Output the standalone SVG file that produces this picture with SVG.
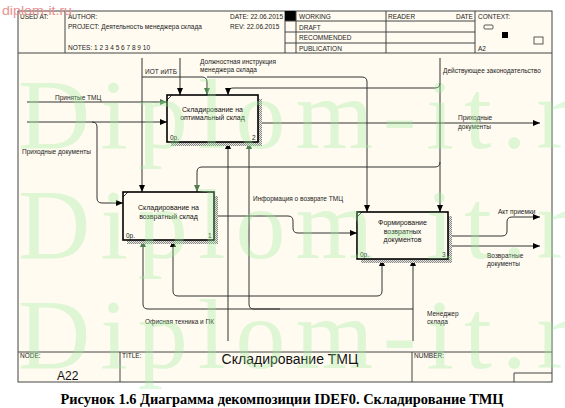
<svg xmlns="http://www.w3.org/2000/svg" width="565" height="408" viewBox="0 0 565 408">
<style>
.t{font-family:"Liberation Sans",Arial,sans-serif;font-size:7px;fill:#111}
.h{font-family:"Liberation Sans",Arial,sans-serif;font-size:6.5px;fill:#222}
.c{stroke:#333;stroke-width:1;fill:none}
.ca{stroke:#333;stroke-width:1;fill:none;marker-end:url(#a)}
.cg{stroke:#333;stroke-width:1;fill:none;marker-end:url(#g)}
.box{fill:#fffbf0;stroke:#000;stroke-width:1.6}
.sh{fill:url(#hatch)}
.fr{stroke:#444;stroke-width:1;fill:none}
.wm{font-family:"Liberation Serif","Times New Roman",serif;font-size:100px;fill:#9aee9a;opacity:0.32}
</style>
<defs>
<marker id="a" markerWidth="7" markerHeight="6" refX="7" refY="3" orient="auto" markerUnits="userSpaceOnUse"><path d="M0,0 L7,3 L0,6 z" fill="#000"/></marker>
<marker id="g" markerWidth="7" markerHeight="6" refX="7" refY="3" orient="auto" markerUnits="userSpaceOnUse"><path d="M0,0 L7,3 L0,6 z" fill="#4f7f4f"/></marker>
<pattern id="hatch" width="2" height="2" patternUnits="userSpaceOnUse"><rect width="2" height="2" fill="#e8e8e0"/><rect width="1" height="1" fill="#888"/><rect x="1" y="1" width="1" height="1" fill="#888"/></pattern>
</defs>
<rect width="565" height="408" fill="#fff"/>
<rect x="18" y="11" width="534" height="371" fill="#fffbf0"/>
<g id="frame">
<rect class="fr" x="18" y="11" width="534" height="371"/>
<line class="fr" x1="18" y1="53" x2="552" y2="53"/>
<line class="fr" x1="65" y1="11" x2="65" y2="53"/>
<line class="fr" x1="285" y1="11" x2="285" y2="53"/>
<rect x="285" y="11" width="11" height="10" fill="#000"/>
<line class="fr" x1="296" y1="11" x2="296" y2="53"/>
<line class="fr" x1="386" y1="11" x2="386" y2="53"/>
<line class="fr" x1="475" y1="11" x2="475" y2="53"/>
<line class="fr" x1="285" y1="21" x2="475" y2="21"/>
<line class="fr" x1="285" y1="32" x2="475" y2="32"/>
<line class="fr" x1="285" y1="43" x2="475" y2="43"/>
<text class="h" x="20" y="18.5">USED AT:</text>
<text class="h" x="68" y="18.5">AUTHOR:</text>
<text class="h" x="68" y="28.5">PROJECT:  Деятельность менеджера склада</text>
<text class="h" x="68" y="49.5">NOTES:  1  2  3  4  5  6  7  8  9  10</text>
<text class="h" x="230" y="18.5">DATE:  22.06.2015</text>
<text class="h" x="230" y="28.5">REV:    22.06.2015</text>
<text class="h" x="299" y="18.5">WORKING</text>
<text class="h" x="299" y="29.5">DRAFT</text>
<text class="h" x="299" y="40">RECOMMENDED</text>
<text class="h" x="299" y="50.5">PUBLICATION</text>
<text class="h" x="388" y="18.5">READER</text>
<text class="h" x="456" y="18.5">DATE</text>
<text class="h" x="478" y="18.5">CONTEXT:</text>
<rect x="484" y="25" width="9" height="4" rx="1" fill="none" stroke="#333" stroke-width="0.8"/>
<rect x="502" y="32" width="6" height="6" fill="#000"/>
<rect x="534" y="37" width="9" height="7" fill="none" stroke="#333" stroke-width="0.8"/>
<text class="h" x="478" y="51">A2</text>
<line class="fr" x1="18" y1="352" x2="552" y2="352"/>
<line class="fr" x1="120" y1="352" x2="120" y2="382"/>
<line class="fr" x1="412" y1="352" x2="412" y2="382"/>
<polyline class="fr" points="514,382 514,373 552,373"/>
<text class="h" x="20" y="358">NODE:</text>
<text class="h" x="122" y="358">TITLE:</text>
<text class="h" x="414" y="358">NUMBER:</text>
<text x="57" y="380" style="font-family:'Liberation Sans',Arial,sans-serif;font-size:12px;fill:#111">A22</text>
<text x="290" y="364" text-anchor="middle" style="font-family:'Liberation Sans',Arial,sans-serif;font-size:14px;fill:#111">Складирование ТМЦ</text>
</g>
<g id="connectors">
<path class="cg" d="M27,102 H167"/>
<path class="ca" d="M27,122 H167"/>
<path class="ca" d="M92,122 Q97,122 97,127 V198 Q97,203 102,203 H123"/>
<path class="ca" d="M142,58 V192"/>
<path class="cg" d="M142,77 H202 Q207,77 207,82 V95"/>
<path class="ca" d="M207,77 H362 Q367,77 367,82 V212"/>
<path class="ca" d="M180,58 V95"/>
<path class="ca" d="M440,58 V212"/>
<path class="ca" d="M440,83 Q440,88 435,88 H233 Q228,88 228,93 V95"/>
<path class="cg" d="M440,162 Q440,167 435,167 H202 Q197,167 197,172 V192"/>
<path class="ca" d="M258,123 H540"/>
<path class="ca" d="M214,216 H288 Q293,216 293,221 V228 Q293,233 298,233 H357"/>
<path class="ca" d="M448,236 H502 Q507,236 507,231 V222 Q507,217 512,217 H540"/>
<path class="ca" d="M448,246 H540"/>
<path class="ca" d="M228,341 V142"/>
<path class="ca" d="M228,296 H178 Q173,296 173,291 V240"/>
<path class="ca" d="M228,296 H377 Q382,296 382,291 V259"/>
<path class="ca" d="M413,341 V259"/>
<path class="cg" d="M413,309 H148 Q143,309 143,304 V240"/>
<path class="cg" d="M280,309 H254 Q249,309 249,304 V142"/>
<text class="h" x="55" y="99.5">Принятые ТМЦ</text>
<text class="h" x="22" y="154">Приходные документы</text>
<text class="h" x="145" y="73.5">ИОТ иИТБ</text>
<text class="h" x="200" y="64">Должностная инструкция</text>
<text class="h" x="200" y="72">менеджера склада</text>
<text class="h" x="443" y="73">Действующее законодательство</text>
<text class="h" x="458" y="120">Приходные</text>
<text class="h" x="458" y="129">документы</text>
<text class="h" x="253" y="201">Информация о возврате ТМЦ</text>
<text class="h" x="498" y="214">Акт приемки</text>
<text class="h" x="487" y="258">Возвратные</text>
<text class="h" x="487" y="266">документы</text>
<text class="h" x="145" y="324">Офисная техника и ПК</text>
<text class="h" x="427" y="316">Менеджер</text>
<text class="h" x="427" y="324">склада</text>
</g>
<g id="box2">
<rect class="sh" x="171" y="99" width="91" height="47"/>
<rect class="box" x="167" y="95" width="91" height="47"/>
<line x1="167" y1="100" x2="172" y2="95" stroke="#000" stroke-width="0.8"/>
<text class="t" x="212.5" y="111.5" text-anchor="middle">Складирование на</text>
<text class="t" x="212.5" y="120" text-anchor="middle">оптимальный склад</text>
<text class="h" x="170" y="140">0р.</text>
<text class="h" x="255.5" y="140" text-anchor="end">2</text>
</g>
<g id="box1">
<rect class="sh" x="127" y="196" width="91" height="48"/>
<rect class="box" x="123" y="192" width="91" height="48"/>
<line x1="123" y1="197" x2="128" y2="192" stroke="#000" stroke-width="0.8"/>
<text class="t" x="168.5" y="210" text-anchor="middle">Складирование на</text>
<text class="t" x="168.5" y="218.5" text-anchor="middle">возвратный склад</text>
<text class="h" x="126" y="238">0р.</text>
<text class="h" x="211.5" y="238" text-anchor="end">1</text>
</g>
<g id="box3">
<rect class="sh" x="361" y="216" width="91" height="47"/>
<rect class="box" x="357" y="212" width="91" height="47"/>
<line x1="357" y1="217" x2="362" y2="212" stroke="#000" stroke-width="0.8"/>
<text class="t" x="402.5" y="225" text-anchor="middle">Формирование</text>
<text class="t" x="402.5" y="233.5" text-anchor="middle">возвратных</text>
<text class="t" x="402.5" y="242" text-anchor="middle">документов</text>
<text class="h" x="360" y="257">0р.</text>
<text class="h" x="445.5" y="257" text-anchor="end">3</text>
</g>
<g id="watermark">
<text class="wm" x="18" y="148" textLength="552" lengthAdjust="spacing">Diplom-it.r</text>
<text class="wm" x="18" y="258" textLength="552" lengthAdjust="spacing">Diplom-it.r</text>
<text class="wm" x="18" y="368" textLength="552" lengthAdjust="spacing">Diplom-it.r</text>
<text x="2" y="15" textLength="70" lengthAdjust="spacingAndGlyphs" style="font-family:'Liberation Sans',Arial,sans-serif;font-size:12px;fill:#e89090">diplom-it.ru</text>
</g>
<text x="282" y="404" text-anchor="middle" textLength="443" lengthAdjust="spacingAndGlyphs" style="font-family:'Liberation Serif','Times New Roman',serif;font-size:14px;font-weight:bold;fill:#000">Рисунок 1.6 Диаграмма декомпозиции IDEF0. Складирование ТМЦ</text>
</svg>
